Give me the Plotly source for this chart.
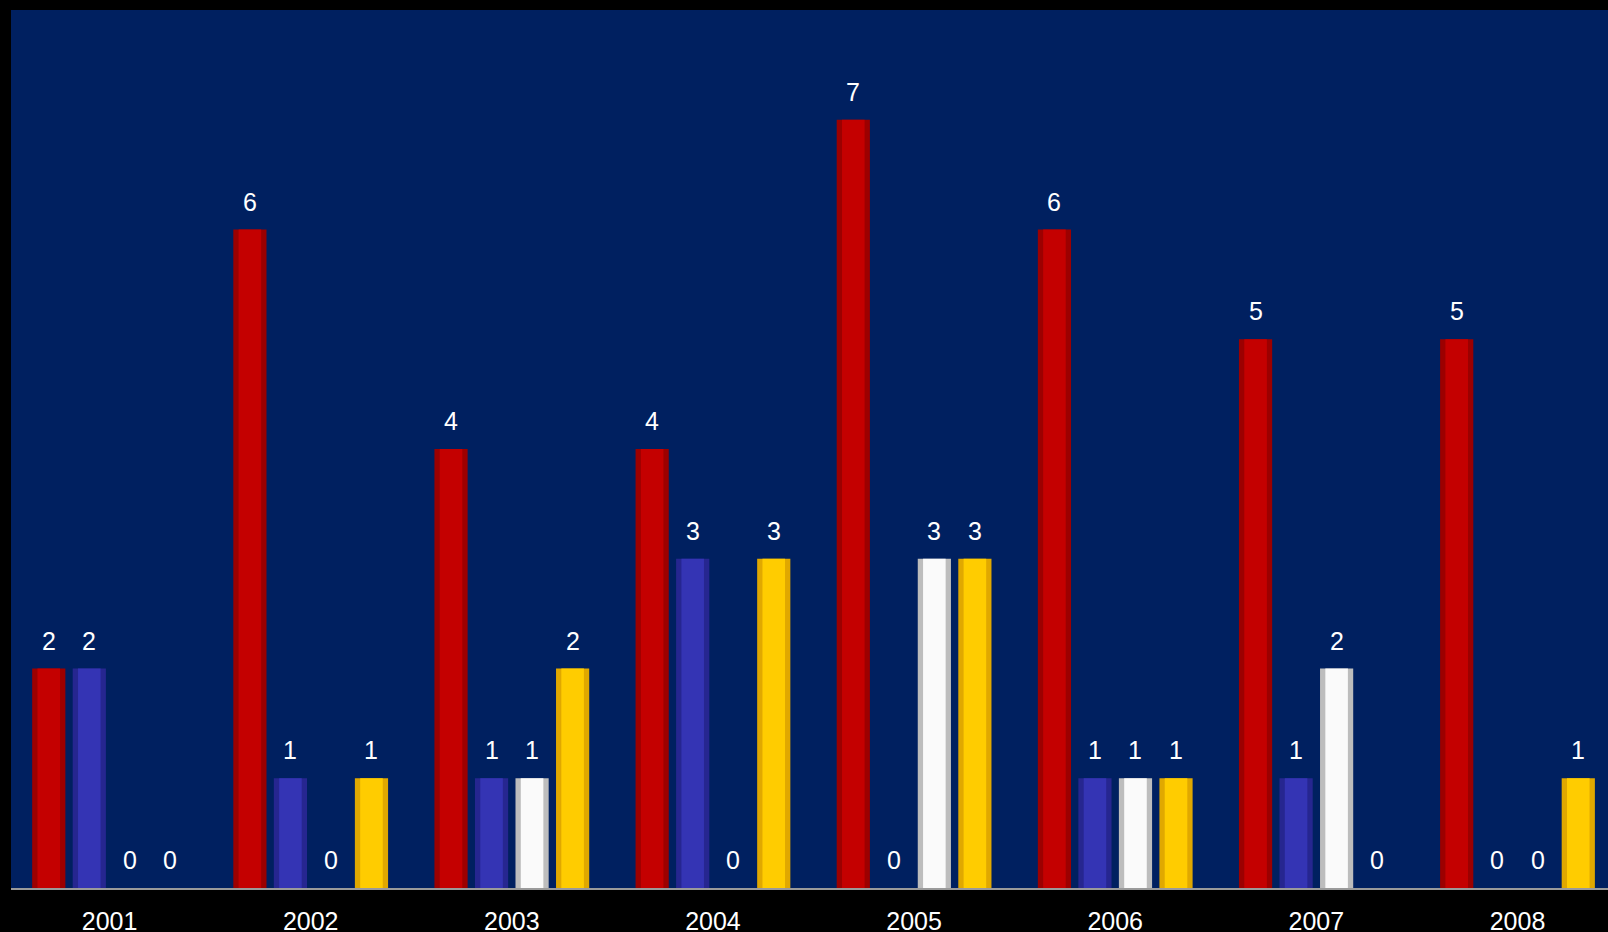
import numpy as np
import plotly.graph_objects as go

years = ["2001", "2002", "2003", "2004", "2005", "2006", "2007", "2008"]
red_vals = [2, 6, 4, 4, 7, 6, 5, 5]
blue_vals = [2, 1, 1, 3, 0, 1, 1, 0]
white_vals = [0, 0, 1, 0, 3, 1, 2, 0]
yellow_vals = [0, 1, 2, 3, 3, 1, 0, 1]

# name, values, face colour, edge (bevel) colour
series = [
    ("Red", red_vals, "#C40000", "#9C0000"),
    ("Blue", blue_vals, "#3434B4", "#262690"),
    ("White", white_vals, "#FAFAFA", "#BDBDBD"),
    ("Yellow", yellow_vals, "#FFCC00", "#E0A800"),
]

step = 0.2015
width = 0.165
base = np.arange(len(years))
FONT = "Liberation Sans, Arial, sans-serif"

fig = go.Figure()
annotations = []
for k, (name, vals, col, edge) in enumerate(series):
    xs = base + (k - 1.5) * step
    fig.add_trace(go.Bar(
        x=xs, y=vals, width=width, name=name,
        marker=dict(color=edge, line=dict(width=0)),
        showlegend=False, hoverinfo="skip",
    ))
    fig.add_trace(go.Bar(
        x=xs, y=vals, width=width * 0.68, name=name,
        marker=dict(color=col, line=dict(width=0)),
        showlegend=False, hoverinfo="y",
    ))
    for x, v in zip(xs, vals):
        annotations.append(dict(
            x=x, y=v, xref="x", yref="y", text=str(v), showarrow=False,
            yanchor="bottom", yshift=12,
            font=dict(family=FONT, size=25, color="white"),
        ))

fig.update_layout(
    width=1608, height=932,
    paper_bgcolor="black", plot_bgcolor="#002060",
    margin=dict(l=11, r=0, t=10, b=44),
    barmode="overlay",
    annotations=annotations,
    xaxis=dict(
        range=[-0.49, 7.45], tickvals=list(base), ticktext=years,
        showgrid=False, zeroline=False, showline=True, linecolor="#9A9A9A", linewidth=2,
        ticks="", ticklabelstandoff=10, automargin=False,
        tickfont=dict(family=FONT, size=25, color="white"),
    ),
    yaxis=dict(range=[0, 8], showgrid=False, zeroline=False, showticklabels=False,
               ticks="", automargin=False),
)

fig.write_html("out.html", config={"displayModeBar": False},
               post_script="document.body.style.margin='0';document.body.style.overflow='hidden';")
